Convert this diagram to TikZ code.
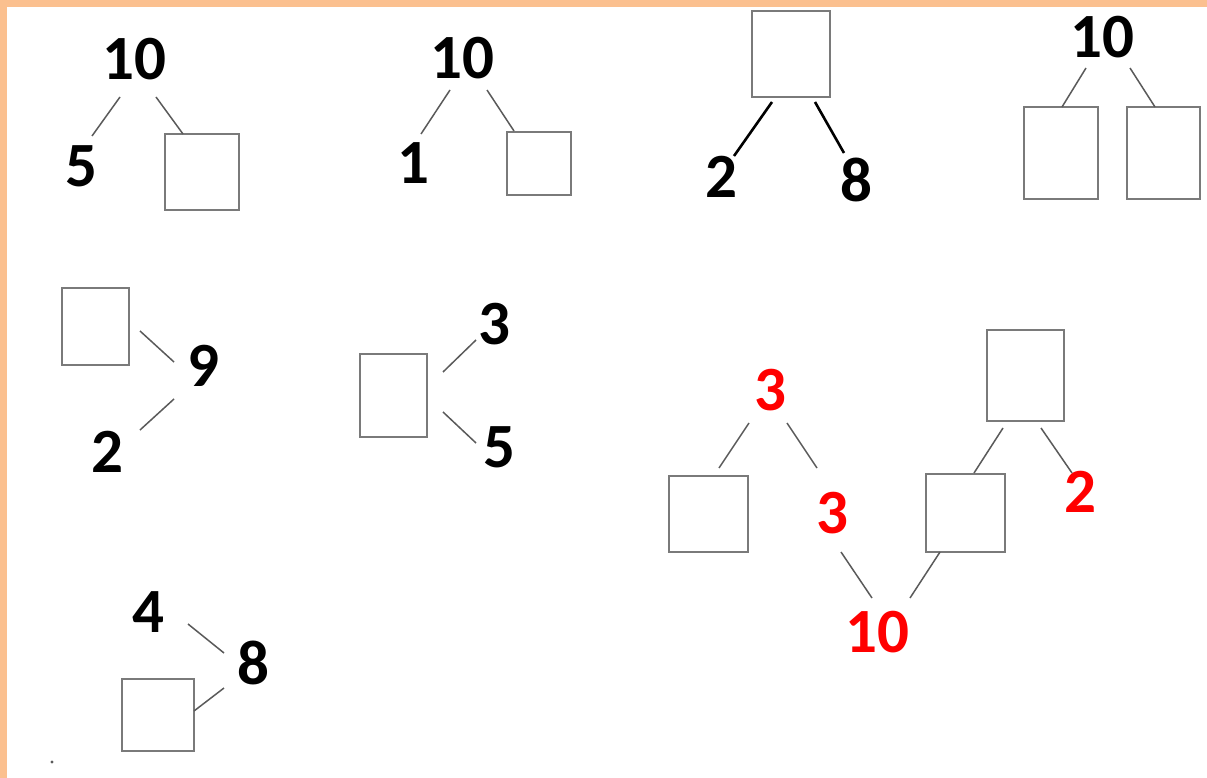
\documentclass[tikz,border=0pt]{standalone}
\usepackage{fontspec}
\setmainfont{Carlito}
\definecolor{peach}{HTML}{FBC08F}
\definecolor{boxgray}{HTML}{7A7A7A}
\definecolor{linegray}{HTML}{5A5A5A}
\definecolor{numred}{HTML}{FF0000}
\begin{document}
\begin{tikzpicture}[x=1pt,y=-1pt,
  num/.style={inner sep=0pt, font=\bfseries\fontsize{63}{63}\selectfont, text=black},
  rnum/.style={num, text=numred},
  box/.style={draw=boxgray, line width=1.6pt, fill=white, inner sep=0pt},
  conn/.style={draw=linegray, line width=1.5pt},
  thick conn/.style={draw=black, line width=2.6pt}]
\useasboundingbox (0,0) rectangle (1207,778);
\fill[white] (0,0) rectangle (1207,778);
\fill[peach] (0,0) rectangle (1207,7);
\fill[peach] (0,0) rectangle (7,778);
\fill[linegray] (52,762) circle (1.6pt);

% group 1
\node[num] (a10) at (134,59) {10};
\node[num] (a5) at (81,166) {5};
\node[box, minimum width=74pt, minimum height=76pt] (abox) at (202,172) {};
\coordinate (a1s) at (120,97); \coordinate (a1e) at (92,136);
\coordinate (a2s) at (156,97); \coordinate (a2e) at (183,134);
\draw[conn] (a1s) -- (a1e);
\draw[conn] (a2s) -- (a2e);

% group 2
\node[num] (b10) at (462,58) {10};
\node[num] (b1) at (413,163) {1};
\node[box, minimum width=64pt, minimum height=63pt] (bbox) at (539,163.5) {};
\coordinate (b1s) at (450,90); \coordinate (b1e) at (421,134);
\coordinate (b2s) at (487,90); \coordinate (b2e) at (514,131);
\draw[conn] (b1s) -- (b1e);
\draw[conn] (b2s) -- (b2e);

% group 3
\node[box, minimum width=78pt, minimum height=86pt] (cbox) at (791,54) {};
\node[num] (c2) at (721,177) {2};
\node[num] (c8) at (856,180) {8};
\coordinate (c1s) at (772,102); \coordinate (c1e) at (734,156);
\coordinate (c2s) at (815,102); \coordinate (c2e) at (844,153);
\draw[thick conn] (c1s) -- (c1e);
\draw[thick conn] (c2s) -- (c2e);

% group 4
\node[num] (d10) at (1102,37) {10};
\node[box, minimum width=74pt, minimum height=92pt] (dboxl) at (1061,153) {};
\node[box, minimum width=73pt, minimum height=92pt] (dboxr) at (1163.5,153) {};
\coordinate (d1s) at (1086,68); \coordinate (d1e) at (1062,107);
\coordinate (d2s) at (1130,68); \coordinate (d2e) at (1155,107);
\draw[conn] (d1s) -- (d1e);
\draw[conn] (d2s) -- (d2e);

% group 5
\node[box, minimum width=67pt, minimum height=77pt] (ebox) at (95.5,326.5) {};
\node[num] (e9) at (203,366) {9};
\node[num] (e2) at (107,452) {2};
\coordinate (e1s) at (140,331); \coordinate (e1e) at (174,362);
\coordinate (e2s) at (174,399); \coordinate (e2e) at (140,430);
\draw[conn] (e1s) -- (e1e);
\draw[conn] (e2s) -- (e2e);

% group 6
\node[num] (f3) at (494,324) {3};
\node[box, minimum width=67pt, minimum height=83pt] (fbox) at (393.5,395.5) {};
\node[num] (f5) at (499,447) {5};
\coordinate (f1s) at (476,340); \coordinate (f1e) at (443,372);
\coordinate (f2s) at (443,412); \coordinate (f2e) at (476,443);
\draw[conn] (f1s) -- (f1e);
\draw[conn] (f2s) -- (f2e);

% group 7
\node[num] (g4) at (148,612) {4};
\node[num] (g8) at (253,663) {8};
\node[box, minimum width=72pt, minimum height=72pt] (gbox) at (158,715) {};
\coordinate (g1s) at (188,624); \coordinate (g1e) at (224,653);
\coordinate (g2s) at (224,688); \coordinate (g2e) at (194,711);
\draw[conn] (g1s) -- (g1e);
\draw[conn] (g2s) -- (g2e);

% group 8 (red)
\node[rnum] (h3a) at (770,390) {3};
\node[box, minimum width=79pt, minimum height=76pt] (hboxl) at (708.5,514) {};
\node[rnum] (h3b) at (832,513) {3};
\node[rnum] (h10) at (877,632) {10};
\node[box, minimum width=79pt, minimum height=78pt] (hboxm) at (965.5,513) {};
\node[box, minimum width=77pt, minimum height=91pt] (hboxt) at (1025.5,375.5) {};
\node[rnum] (h2) at (1080,492) {2};
\coordinate (h1s) at (749,423); \coordinate (h1e) at (719,468);
\coordinate (h2s) at (787,423); \coordinate (h2e) at (817,468);
\coordinate (h3s) at (841,552); \coordinate (h3e) at (872,598);
\coordinate (h4s) at (910,598); \coordinate (h4e) at (940,552);
\coordinate (h5s) at (1003,428); \coordinate (h5e) at (974,473);
\coordinate (h6s) at (1041,428); \coordinate (h6e) at (1072,473);
\draw[conn] (h1s) -- (h1e);
\draw[conn] (h2s) -- (h2e);
\draw[conn] (h3s) -- (h3e);
\draw[conn] (h4s) -- (h4e);
\draw[conn] (h5s) -- (h5e);
\draw[conn] (h6s) -- (h6e);
\end{tikzpicture}
\end{document}
